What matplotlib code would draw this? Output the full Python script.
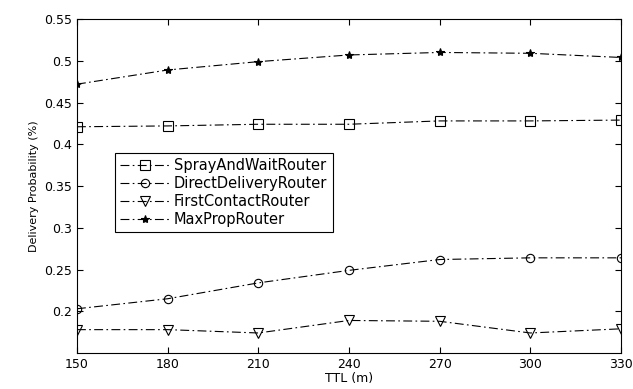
import numpy as np
import matplotlib
matplotlib.use("Agg")
import matplotlib.pyplot as plt

# ============================================================
# DATA
# ============================================================
ttl = [150, 180, 210, 240, 270, 300, 330]
spray_wait = [0.421, 0.422, 0.424, 0.424, 0.428, 0.428, 0.429]
direct_delivery = [0.203, 0.215, 0.234, 0.249, 0.262, 0.264, 0.264]
first_contact = [0.178, 0.178, 0.174, 0.189, 0.188, 0.174, 0.179]
max_prop = [0.472, 0.489, 0.499, 0.507, 0.510, 0.509, 0.504]

# ============================================================
# PLOT
# ============================================================
plt.rcParams['font.family'] = ['DejaVu Sans']

fig = plt.figure(figsize=(6.33, 3.89), dpi=100)
ax = fig.add_axes([0.1216, 0.0925, 0.8594, 0.8585])

style = dict(color='black', lw=0.8, dashes=(8, 3, 1.5, 3), mfc='none', mec='black', mew=0.8)
ax.plot(ttl, spray_wait, marker='s', ms=7, label='SprayAndWaitRouter', **style)
ax.plot(ttl, direct_delivery, marker='o', ms=6, label='DirectDeliveryRouter', **style)
ax.plot(ttl, first_contact, marker='v', ms=7, label='FirstContactRouter', **style)
ax.plot(ttl, max_prop, marker='*', ms=6, label='MaxPropRouter',
        **{**style, 'mfc': 'black'})

ax.set_xlim(150, 330)
ax.set_ylim(0.15, 0.55)
ax.set_xticks(ttl)
ax.set_yticks([0.2, 0.25, 0.3, 0.35, 0.4, 0.45, 0.5, 0.55])
ax.set_yticklabels(['0.2', '0.25', '0.3', '0.35', '0.4', '0.45', '0.5', '0.55'])
ax.tick_params(direction='in', top=True, right=True, labelsize=9, length=4, width=0.8)
for s in ax.spines.values():
    s.set_linewidth(0.8)

ax.set_xlabel("TTL (m)", fontsize=9, labelpad=1)
ax.set_ylabel("Delivery Probability (%)", fontsize=8, labelpad=4)

leg = ax.legend(loc='upper left', bbox_to_anchor=(0.07, 0.599), fontsize=10.5,
                handlelength=3.4, labelspacing=0.2, borderpad=0.35,
                handletextpad=0.3, fancybox=False, framealpha=1,
                edgecolor='black', borderaxespad=0)
leg.get_frame().set_linewidth(0.8)

fig.savefig("out.png", dpi=100)
